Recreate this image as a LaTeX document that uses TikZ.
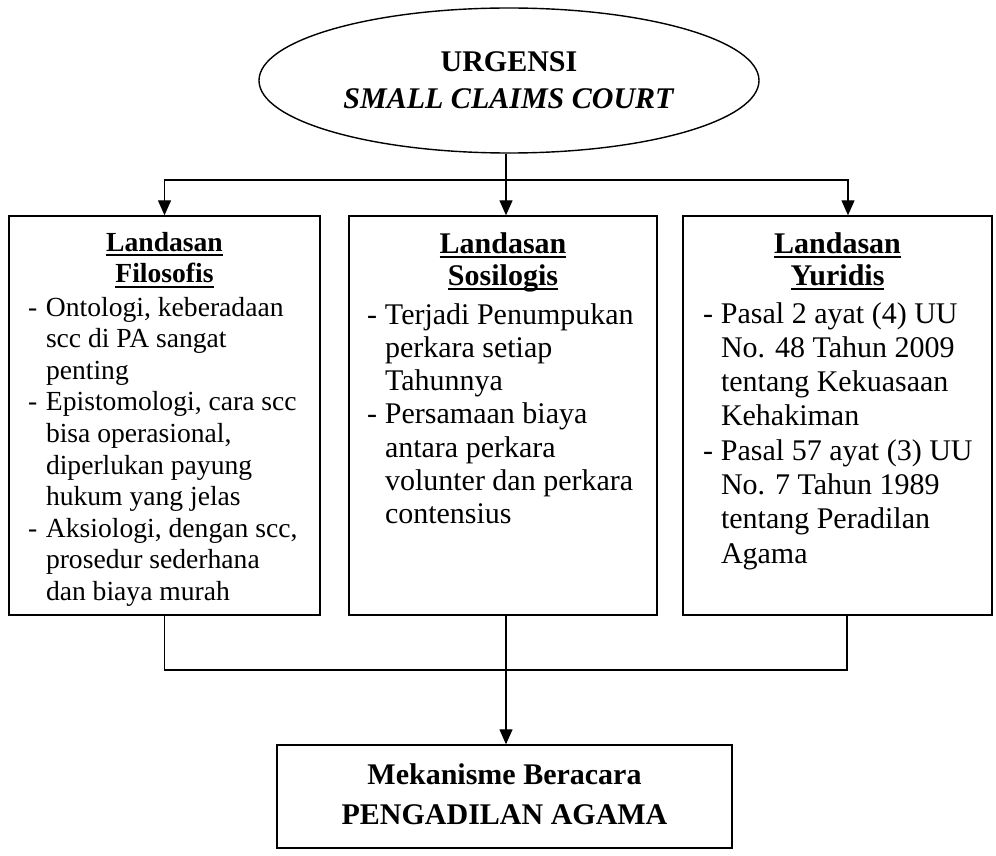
\documentclass[tikz,border=0pt]{standalone}
\usepackage{fontspec}
\setmainfont{Liberation Serif}
\usetikzlibrary{shapes.geometric,arrows.meta}

% heading underline at a fixed depth below the baseline
\newcommand{\ulhead}[1]{\setbox0\hbox{#1}\rlap{\rule[-5pt]{\wd0}{1.8pt}}\box0}
% hanging dash for list items
\newcommand{\dsh}{\makebox[18pt][l]{-}}

\tikzset{
  frame/.style={draw=black, line width=1.4pt, rectangle, inner sep=0pt},
  conn/.style={draw=black, line width=1.3pt},
  arr/.style={conn, -{Triangle[length=15pt,width=13pt]}},
  txt/.style={inner sep=0pt, outer sep=0pt}
}

\begin{document}
\begin{tikzpicture}[x=1pt, y=-1pt]
  \path[fill=white] (0,0) rectangle (996,856);

  % top ellipse
  \node[draw=black, line width=1.4pt, ellipse, inner sep=0pt,
        minimum width=500pt, minimum height=145pt] (urg) at (509,80.5) {};
  \node[txt, anchor=base] (urgt) at (509,72)
    {\fontsize{30}{37}\selectfont\begin{tabular}[t]{@{}c@{}}
      \textbf{URGENSI}\\ \textbf{\textit{SMALL CLAIMS COURT}}
    \end{tabular}};

  % three foundation boxes
  \node[frame, minimum width=311pt, minimum height=399pt] (fil) at (164.5,415.5) {};
  \node[frame, minimum width=308pt, minimum height=399pt] (sos) at (503,415.5) {};
  \node[frame, minimum width=309pt, minimum height=399pt] (yur) at (837.5,415.5) {};

  % bottom box
  \node[frame, minimum width=455pt, minimum height=103pt] (mek) at (504.5,796.5) {};
  \node[txt, anchor=base] (mekt) at (504.5,784)
    {\fontsize{30}{40}\selectfont\bfseries\begin{tabular}[t]{@{}c@{}}
      Mekanisme Beracara\\ PENGADILAN AGAMA
    \end{tabular}};

  % box headings
  \node[txt, anchor=base] (filh) at (164.5,251)
    {\fontsize{27.6}{32}\selectfont\bfseries\begin{tabular}[t]{@{}c@{}}
      \ulhead{Landasan}\\ \ulhead{Filosofis}
    \end{tabular}};
  \node[txt, anchor=base] (sosh) at (503,253)
    {\fontsize{30}{32}\selectfont\bfseries\begin{tabular}[t]{@{}c@{}}
      \ulhead{Landasan}\\ \ulhead{Sosilogis}
    \end{tabular}};
  \node[txt, anchor=base] (yurh) at (837.5,253)
    {\fontsize{30}{32}\selectfont\bfseries\begin{tabular}[t]{@{}c@{}}
      \ulhead{Landasan}\\ \ulhead{Yuridis}
    \end{tabular}};

  % box contents
  \node[txt, anchor=base west] (fili) at (28,316)
    {\fontsize{27.6}{31.6}\selectfont\begin{tabular}[t]{@{}l@{}l@{}}
      \dsh & Ontologi, keberadaan\\
           & scc di PA sangat\\
           & penting\\
      \dsh & Epistomologi, cara scc\\
           & bisa operasional,\\
           & diperlukan payung\\
           & hukum yang jelas\\
      \dsh & Aksiologi, dengan scc,\\
           & prosedur sederhana\\
           & dan biaya murah
    \end{tabular}};
  \node[txt, anchor=base west] (sosi) at (367,324)
    {\fontsize{30}{33.3}\selectfont\begin{tabular}[t]{@{}l@{}l@{}}
      \dsh & Terjadi Penumpukan\\
           & perkara setiap\\
           & Tahunnya\\
      \dsh & Persamaan biaya\\
           & antara perkara\\
           & volunter dan perkara\\
           & contensius
    \end{tabular}};
  \node[txt, anchor=base west] (yuri) at (703,323)
    {\fontsize{30}{34.3}\selectfont\begin{tabular}[t]{@{}l@{}l@{}}
      \dsh & Pasal 2 ayat (4) UU\\
           & No. 48 Tahun 2009\\
           & tentang Kekuasaan\\
           & Kehakiman\\
      \dsh & Pasal 57 ayat (3) UU\\
           & No. 7 Tahun 1989\\
           & tentang Peradilan\\
           & Agama
    \end{tabular}};

  % connectors from the ellipse to the three boxes
  \coordinate (hub) at (506,180);
  \draw[conn] (hub |- urg.south) -- (hub);
  \draw[arr] (hub) -| (fil.north);
  \draw[arr] (hub) -- (hub |- sos.north);
  \draw[arr] (hub) -| ([xshift=10.5pt]yur.north);

  % connectors from the three boxes to the bottom box
  \coordinate (bus) at (506,670);
  \draw[conn] (fil.south) |- (bus);
  \draw[conn] ([xshift=9.5pt]yur.south) |- (bus);
  \draw[conn] (bus |- sos.south) -- (bus);
  \draw[arr] (bus) -- (bus |- mek.north);
\end{tikzpicture}
\end{document}
